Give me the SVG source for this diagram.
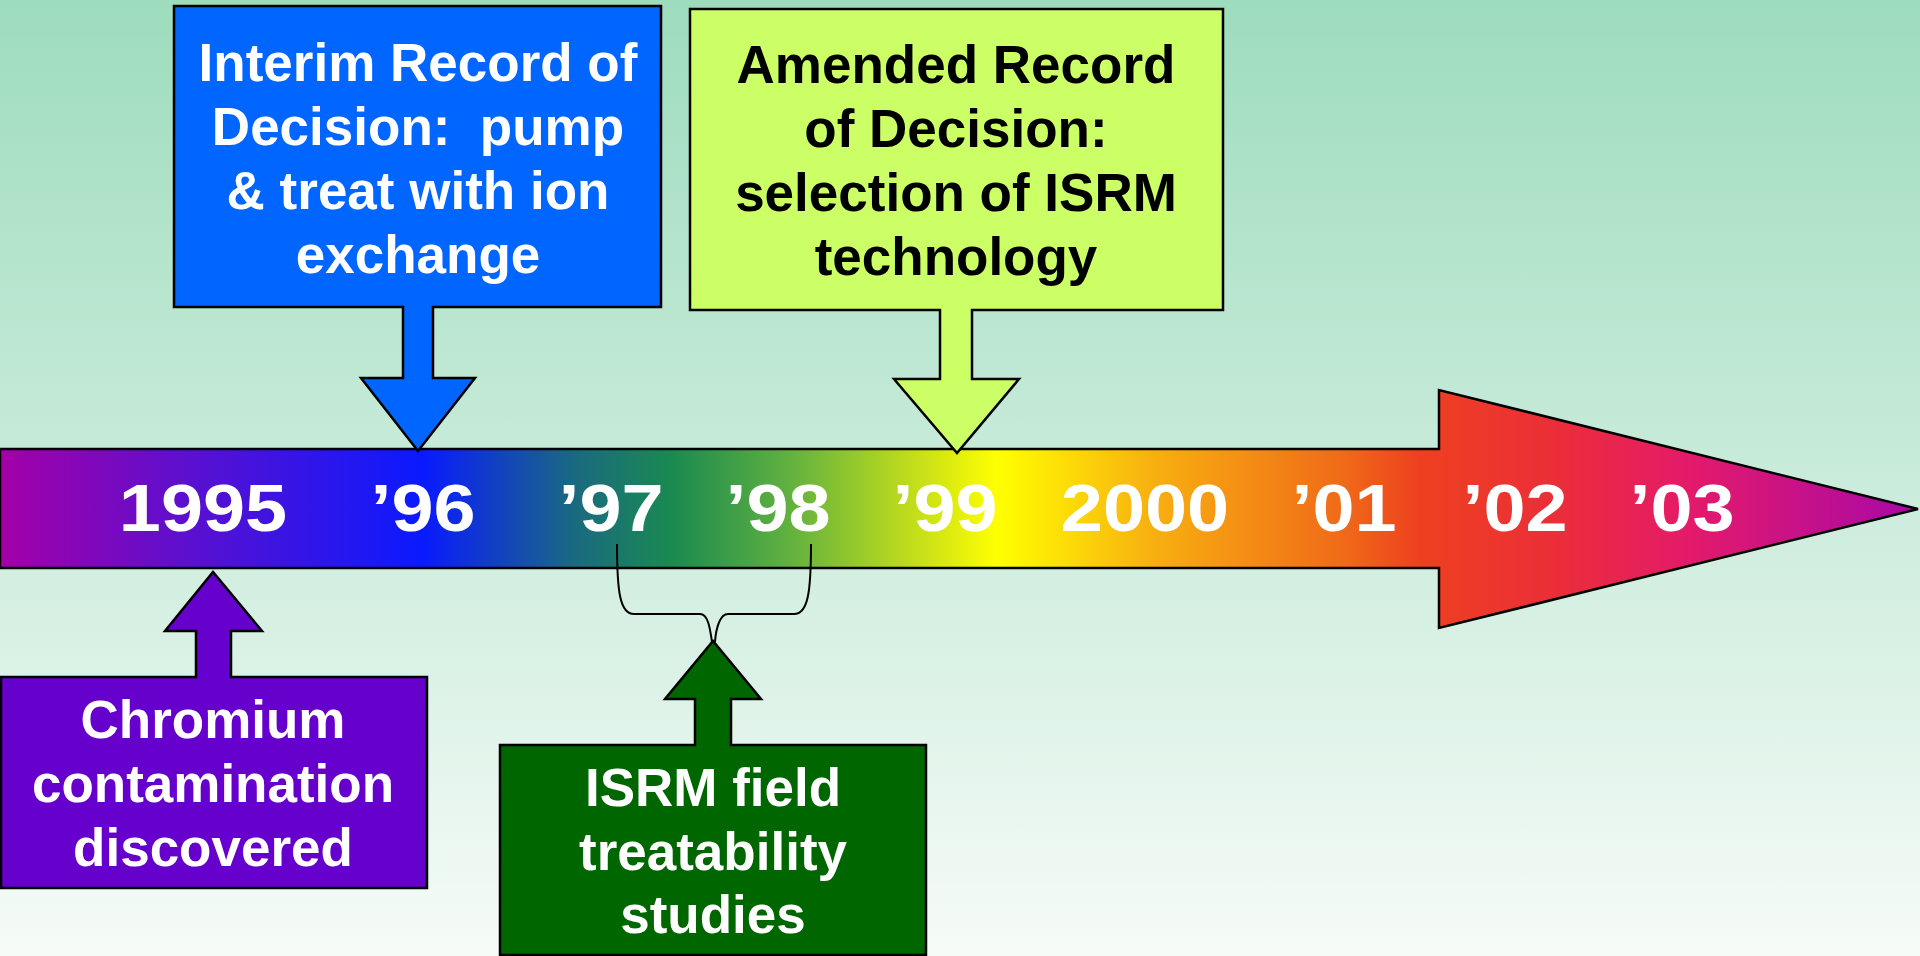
<svg xmlns="http://www.w3.org/2000/svg" width="1920" height="956" viewBox="0 0 1920 956">
  <defs>
    <linearGradient id="bg" x1="0" y1="0" x2="0" y2="1">
      <stop offset="0" stop-color="#9ddcbd"/>
      <stop offset="1" stop-color="#f6fbf8"/>
    </linearGradient>
    <linearGradient id="spectrum" gradientUnits="userSpaceOnUse" x1="0" y1="0" x2="1919" y2="0">
      <stop offset="0" stop-color="#a400a8"/>
      <stop offset="0.1" stop-color="#5a10d0"/>
      <stop offset="0.22" stop-color="#0a1aff"/>
      <stop offset="0.3" stop-color="#1a6a80"/>
      <stop offset="0.35" stop-color="#1a8a50"/>
      <stop offset="0.41" stop-color="#60b040"/>
      <stop offset="0.48" stop-color="#c8e018"/>
      <stop offset="0.52" stop-color="#ffff00"/>
      <stop offset="0.6" stop-color="#f8b010"/>
      <stop offset="0.7" stop-color="#f06a18"/>
      <stop offset="0.74" stop-color="#ee4020"/>
      <stop offset="0.81" stop-color="#eb2e38"/>
      <stop offset="0.88" stop-color="#e41a6a"/>
      <stop offset="1" stop-color="#a808a8"/>
    </linearGradient>
    <style>
      .outline { stroke: #000; stroke-width: 2.5; stroke-linejoin: miter; }
      .label { font-family: "Liberation Sans", Arial, sans-serif; font-weight: bold; font-size: 53px; text-anchor: middle; }
      .year { font-family: "Liberation Sans", Arial, sans-serif; font-weight: bold; font-size: 67px; text-anchor: middle; fill: #fff; }
      .bracket { fill: none; stroke: #000; stroke-width: 2; }
    </style>
  </defs>

  <rect width="1920" height="956" fill="url(#bg)"/>

  <!-- timeline arrow -->
  <g id="timeline">
    <polygon class="outline" fill="url(#spectrum)" points="0,449 1439,449 1439,390 1918,509 1439,628 1439,568 0,568"/>
    <text class="year" transform="translate(203,531) scale(1.13,1)">1995</text>
    <text class="year" transform="translate(423,531) scale(1.13,1)">’96</text>
    <text class="year" transform="translate(611,531) scale(1.13,1)">’97</text>
    <text class="year" transform="translate(778,531) scale(1.13,1)">’98</text>
    <text class="year" transform="translate(945,531) scale(1.13,1)">’99</text>
    <text class="year" transform="translate(1145,531) scale(1.13,1)">2000</text>
    <text class="year" transform="translate(1344,531) scale(1.13,1)">’01</text>
    <text class="year" transform="translate(1515,531) scale(1.13,1)">’02</text>
    <text class="year" transform="translate(1682,531) scale(1.13,1)">’03</text>
  </g>

  <!-- bracket joining '97 and '98 -->
  <g id="connectors">
    <path class="bracket" d="M617,544 C617,592 620,614 634,614 L700,614 C708,614 710,628 712,642"/>
    <path class="bracket" d="M811,544 C811,592 808,614 794,614 L728,614 C720,614 716,628 715,642"/>
  </g>

  <!-- interim record of decision -->
  <g id="interim-rod">
    <polygon class="outline" fill="#0066ff" points="174,6 661,6 661,307 433,307 433,378 475,378 418,451 361,378 403,378 403,307 174,307"/>
    <text class="label" fill="#fff" x="418" y="81">Interim Record of</text>
    <text class="label" fill="#fff" x="418" y="145" xml:space="preserve">Decision:  pump</text>
    <text class="label" fill="#fff" x="418" y="209">&amp; treat with ion</text>
    <text class="label" fill="#fff" x="418" y="273">exchange</text>
  </g>

  <!-- amended record of decision -->
  <g id="amended-rod">
    <polygon class="outline" fill="#ccff66" points="690,9 1223,9 1223,310 972,310 972,379 1019,379 957,453 894,379 940,379 940,310 690,310"/>
    <text class="label" fill="#000" x="956" y="83">Amended Record</text>
    <text class="label" fill="#000" x="956" y="147">of Decision:</text>
    <text class="label" fill="#000" x="956" y="211">selection of ISRM</text>
    <text class="label" fill="#000" x="956" y="275">technology</text>
  </g>

  <!-- chromium discovery -->
  <g id="chromium">
    <polygon class="outline" fill="#6600cc" points="1,677 196,677 196,631 165,631 213,572 262,631 231,631 231,677 427,677 427,888 1,888"/>
    <text class="label" fill="#fff" x="213" y="738">Chromium</text>
    <text class="label" fill="#fff" x="213" y="802">contamination</text>
    <text class="label" fill="#fff" x="213" y="866">discovered</text>
  </g>

  <!-- field treatability studies -->
  <g id="treatability">
    <polygon class="outline" fill="#006600" points="500,745 695,745 695,699 665,699 713,641 761,699 731,699 731,745 926,745 926,955 500,955"/>
    <text class="label" fill="#fff" x="713" y="806">ISRM field</text>
    <text class="label" fill="#fff" x="713" y="870">treatability</text>
    <text class="label" fill="#fff" x="713" y="933">studies</text>
  </g>
</svg>
